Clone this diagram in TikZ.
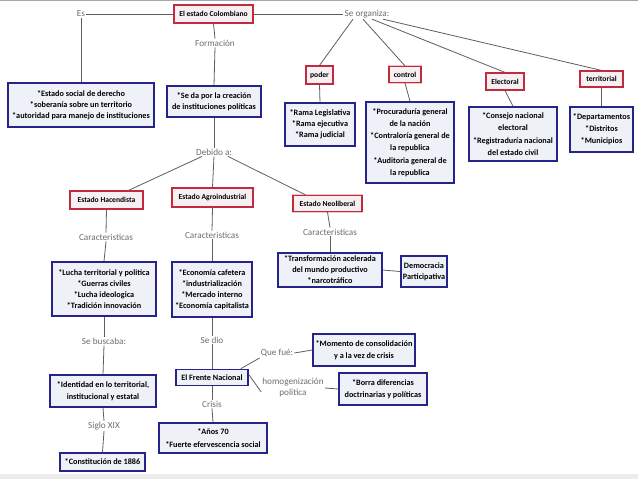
\documentclass[tikz,border=0pt]{standalone}
\usepackage{fontspec}
\setmainfont{Carlito}
\begin{document}
\begin{tikzpicture}[x=1pt,y=-1pt]
\definecolor{redb}{HTML}{C42A3E}
\definecolor{redglow}{HTML}{F2C4CA}
\definecolor{redfill}{HTML}{F6F0F2}
\definecolor{blueb}{HTML}{262488}
\definecolor{bluefill}{HTML}{EEF2F8}
\definecolor{lbl}{HTML}{6E6E6E}
\definecolor{ln}{HTML}{5E5E5E}
\tikzset{
  redbox/.style={draw=redb, line width=1.2pt, fill=redfill, font=\bfseries\fontsize{7.6}{9}\selectfont, inner sep=2pt, preaction={draw=redglow, line width=2.8pt}},
  bluebox/.style={draw=blueb, line width=1.5pt, fill=bluefill, font=\bfseries\fontsize{8.2}{11}\selectfont, align=center, inner sep=2pt},
  lab/.style={text=lbl, font=\fontsize{9.2}{10}\selectfont, inner sep=1pt, align=center},
  conn/.style={draw=ln, line width=0.8pt},
}
\useasboundingbox (0,0) rectangle (638,479);
\fill[white] (0,0) rectangle (638,479);
\draw[gray!70, line width=1.2pt] (0,0.6) -- (638,0.6);
\fill[gray!15] (0,474) rectangle (638,479);

% top
\node[redbox, minimum width=79pt, minimum height=18pt] (root) at (213.5,14) {El estado Colombiano};
\node[lab] (es) at (81,14) {Es};
\node[lab] (form) at (215,43) {Formación};
\node[lab] (org) at (367,14) {Se organiza:};

\node[bluebox, minimum width=146pt, minimum height=44pt] (esbox) at (81,105) {*Estado social de derecho\\*soberanía sobre un territorio\\*autoridad para manejo de instituciones};
\node[bluebox, minimum width=94pt, minimum height=31pt, font=\bfseries\fontsize{8.2}{11}\selectfont] (sedabox) at (214,101.5) {*Se da por la creación\\de instituciones políticas};

% organiza branches
\node[redbox, minimum width=27pt, minimum height=18pt] (poder) at (319.5,75) {poder};
\node[redbox, minimum width=32pt, minimum height=16pt] (control) at (405,74.5) {control};
\node[redbox, minimum width=38pt, minimum height=17pt] (electoral) at (505,81.5) {Electoral};
\node[redbox, minimum width=43pt, minimum height=16pt] (territorial) at (601.5,79) {territorial};

\node[bluebox, minimum width=70pt, minimum height=43pt] (poderbox) at (320,124.5) {*Rama Legislativa\\*Rama ejecutiva\\*Rama judicial};
\node[bluebox, minimum width=88pt, minimum height=81pt, font=\bfseries\fontsize{8.2}{12.2}\selectfont] (controlbox) at (410,142.5) {*Procuraduría general\\de la nación\\*Contraloría general de\\la republica\\*Auditoria general de\\la republica};
\node[bluebox, minimum width=88pt, minimum height=54pt, font=\bfseries\fontsize{8.2}{12.2}\selectfont] (electoralbox) at (513,134) {*Consejo nacional\\electoral\\*Registraduría nacional\\del estado civil};
\node[bluebox, minimum width=63pt, minimum height=45pt, font=\bfseries\fontsize{8.2}{12.2}\selectfont] (territorialbox) at (601.5,129.5) {*Departamentos\\*Distritos\\*Municipios};

% Debido a
\node[lab] (debido) at (214,152) {Debido a:};
\node[redbox, minimum width=73pt, minimum height=18pt] (hac) at (106.5,200) {Estado Hacendista};
\node[redbox, minimum width=81pt, minimum height=19pt] (agro) at (212.5,197.5) {Estado Agroindustrial};
\node[redbox, minimum width=69pt, minimum height=16pt] (neo) at (327.5,203.5) {Estado Neoliberal};

\node[lab] (car1) at (106,237) {Caracteristicas};
\node[lab] (car2) at (212,235) {Caracteristicas};
\node[lab] (car3) at (330,232) {Caracteristicas};

\node[bluebox, minimum width=104pt, minimum height=54pt] (hacbox) at (104,289) {*Lucha territorial y politica\\*Guerras civiles\\*Lucha ideologica\\*Tradición innovación};
\node[bluebox, minimum width=80pt, minimum height=55pt] (agrobox) at (212,289.5) {*Economía cafetera\\*industrialización\\*Mercado interno\\*Economía capitalista};
\node[bluebox, minimum width=104pt, minimum height=34pt] (neobox) at (330,270) {*Transformación acelerada\\del mundo productivo\\*narcotráfico};
\node[bluebox, minimum width=42pt, minimum height=31pt] (demo) at (424,271.5) {Democracia\\Participativa};

% lower left
\node[lab] (busc) at (104,341) {Se buscaba:};
\node[bluebox, minimum width=106pt, minimum height=32pt, font=\bfseries\fontsize{8.2}{12.2}\selectfont] (ident) at (103,391) {*Identidad en lo territorial,\\institucional y estatal};
\node[lab] (siglo) at (104,426) {Siglo XIX};
\node[bluebox, minimum width=85pt, minimum height=18pt] (const) at (102.5,462) {*Constitución de 1886};

% lower middle
\node[lab] (sedio) at (212,340) {Se dio};
\node[bluebox, minimum width=72pt, minimum height=16pt] (frente) at (212,377.5) {El Frente Nacional};
\node[lab] (crisis) at (212,404) {Crisis};
\node[bluebox, minimum width=108pt, minimum height=30pt, font=\bfseries\fontsize{8.2}{12.2}\selectfont] (anos) at (213,438) {*Años 70\\*Fuerte efervescencia social};
\node[lab] (que) at (277,353) {Que fué:};
\node[bluebox, minimum width=102pt, minimum height=32pt, font=\bfseries\fontsize{8.2}{12.2}\selectfont] (momento) at (364,350) {*Momento de consolidación\\y a la vez de crisis};
\node[lab, font=\fontsize{9.2}{11}\selectfont] (homo) at (293,388) {homogenización\\politica};
\node[bluebox, minimum width=88pt, minimum height=32pt, font=\bfseries\fontsize{8.2}{12.2}\selectfont] (borra) at (383,389) {*Borra diferencias\\doctrinarias y políticas};

% connectors
\draw[conn] (root.west) -- (es.east);
\draw[conn] (es.south) -- (esbox.north);
\draw[conn] (root.south) -- (form.north);
\draw[conn] (form.south) -- (sedabox.north);
\draw[conn] (root.east) -- (org.west);
\draw[conn] ([xshift=-14pt]org.south) -- (poder.north);
\draw[conn] ([xshift=-4pt]org.south) -- (control.north);
\draw[conn] ([xshift=5pt]org.south) -- (electoral.north);
\draw[conn] ([xshift=16pt]org.south) -- (territorial.north);
\draw[conn] (poder.south) -- (poderbox.north);
\draw[conn] (control.south) -- (controlbox.north);
\draw[conn] (electoral.south) -- (electoralbox.north);
\draw[conn] (territorial.south) -- (territorialbox.north);
\draw[conn] (sedabox.south) -- (debido.north);
\draw[conn] ([xshift=-12pt]debido.south) -- ([xshift=22pt]hac.north);
\draw[conn] (debido.south) -- (agro.north);
\draw[conn] ([xshift=14pt]debido.south) -- ([xshift=-22pt]neo.north);
\draw[conn] (hac.south) -- (car1.north);
\draw[conn] (car1.south) -- (hacbox.north);
\draw[conn] (agro.south) -- (car2.north);
\draw[conn] (car2.south) -- (agrobox.north);
\draw[conn] (neo.south) -- (car3.north);
\draw[conn] (car3.south) -- (neobox.north);
\draw[conn] (neobox.east) -- (demo.west);
\draw[conn] (hacbox.south) -- (busc.north);
\draw[conn] (busc.south) -- (ident.north);
\draw[conn] (ident.south) -- (siglo.north);
\draw[conn] (siglo.south) -- (const.north);
\draw[conn] (agrobox.south) -- (sedio.north);
\draw[conn] (sedio.south) -- (frente.north);
\draw[conn] (frente.south) -- (crisis.north);
\draw[conn] (crisis.south) -- (anos.north);
\draw[conn] ([xshift=-8pt]frente.north east) -- (que.south west);
\draw[conn] (que.east) -- (momento.west);
\draw[conn] ([yshift=3pt]frente.east) -- ([yshift=-4pt]homo.west);
\draw[conn] (homo.east) -- (borra.west);
\end{tikzpicture}
\end{document}
